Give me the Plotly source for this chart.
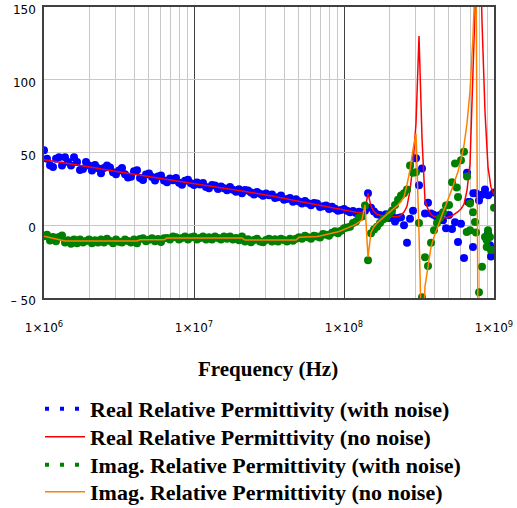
import plotly.graph_objects as go

# ---- frequency grid (50 points per decade) ----
mantissa = [1.0000, 1.0471, 1.0965, 1.1482, 1.2023, 1.2589, 1.3183, 1.3804, 1.4454, 1.5136,
            1.5849, 1.6596, 1.7378, 1.8197, 1.9055, 1.9953, 2.0893, 2.1878, 2.2909, 2.3988,
            2.5119, 2.6303, 2.7542, 2.8840, 3.0200, 3.1623, 3.3113, 3.4674, 3.6308, 3.8019,
            3.9811, 4.1687, 4.3652, 4.5709, 4.7863, 5.0119, 5.2481, 5.4954, 5.7544, 6.0256,
            6.3096, 6.6069, 6.9183, 7.2444, 7.5858, 7.9433, 8.3176, 8.7096, 9.1201, 9.5499]
decades = [1e6, 1e7, 1e8]
freq = [m * d for d in decades for m in mantissa] + [1e9]

real_clean = [45.0, 44.7, 44.3, 44.0, 43.7, 43.3, 43.0, 42.7, 42.4, 42.0,
              41.7, 41.4, 41.0, 40.7, 40.4, 40.0, 39.7, 39.4, 39.1, 38.7,
              38.4, 38.1, 37.7, 37.4, 37.1, 36.7, 36.4, 36.1, 35.8, 35.4,
              35.1, 34.8, 34.4, 34.1, 33.8, 33.5, 33.1, 32.8, 32.5, 32.2,
              31.8, 31.5, 31.2, 30.9, 30.5, 30.2, 29.9, 29.6, 29.2, 28.9,
              28.6, 28.3, 28.0, 27.6, 27.3, 27.0, 26.7, 26.4, 26.0, 25.7,
              25.4, 25.1, 24.8, 24.4, 24.1, 23.8, 23.5, 23.2, 22.8, 22.5,
              22.2, 21.9, 21.6, 21.2, 20.9, 20.6, 20.2, 19.8, 19.3, 18.9,
              18.5, 18.1, 17.7, 17.2, 16.8, 16.4, 16.0, 15.6, 15.1, 14.7,
              14.3, 13.9, 13.5, 13.0, 12.6, 12.2, 11.8, 11.4, 10.9, 10.5,
              10.1, 9.8, 9.5, 9.2, 9.0, 8.8, 8.8, 10.5, 22.0, 13.0,
              9.5, 7.5, 6.8, 6.4, 6.1, 5.9, 5.8, 5.8, 6.0, 7.0,
              9.0, 13.0, 24.0, 42.0, 70.0, 130.0, 60.0, 17.0, 11.0, 7.5,
              6.0, 5.3, 4.9, 4.8, 5.0, 5.6, 6.5, 7.8, 9.3, 11.2,
              14.5, 24.0, 42.0, 106.0, 180.0, 230.0, 140.0, 78.0, 40.0, 26.0,
              21.0]

imag_clean = [-7.5, -8.0, -8.5, -9.0, -9.5, -10.0, -10.5, -10.8, -10.8, -10.8,
              -10.8, -10.8, -10.8, -10.8, -10.8, -10.8, -10.8, -10.8, -10.8, -10.8,
              -10.8, -10.8, -10.8, -10.8, -10.8, -10.8, -10.8, -10.8, -10.8, -10.8,
              -10.8, -10.8, -10.0, -10.0, -10.0, -10.0, -10.0, -10.0, -10.0, -10.0,
              -10.0, -8.8, -8.8, -8.8, -8.8, -8.8, -8.8, -8.8, -8.8, -8.8,
              -8.8, -8.8, -8.8, -8.8, -8.8, -8.8, -8.8, -8.8, -8.8, -8.8,
              -8.8, -8.8, -8.8, -8.8, -8.8, -8.8, -8.8, -10.2, -10.2, -10.2,
              -10.2, -10.2, -10.2, -10.2, -10.2, -10.2, -10.2, -10.2, -10.2, -10.2,
              -10.2, -10.2, -10.2, -10.2, -10.2, -8.3, -8.3, -8.3, -8.3, -8.3,
              -8.3, -7.8, -7.4, -7.0, -6.6, -6.2, -5.7, -5.1, -4.5, -3.8,
              -3.0, -2.2, -1.3, -0.3, 0.8, 2.0, 3.5, 14.0, -22.0, -5.0,
              -1.0, 1.5, 3.5, 5.3, 7.0, 8.7, 10.3, 12.0, 14.0, 16.5,
              19.5, 28.0, 38.0, 52.0, 63.0, -5.0, -90.0, -42.0, -27.0, -15.0,
              -8.0, -2.0, 4.0, 9.0, 14.0, 19.0, 25.0, 31.0, 37.0, 45.0,
              55.0, 70.0, 92.0, 130.0, 185.0, -200.0, -120.0, -90.0, -75.0, -65.0,
              -60.0]

real_noisy = [51.5, 45.7, 41.3, 40.0, 45.7, 46.8, 41.0, 46.7, 43.4, 41.0,
              46.7, 43.4, 38.0, 38.7, 43.4, 41.0, 37.7, 41.4, 39.1, 35.7,
              39.4, 41.1, 39.7, 36.4, 35.1, 37.7, 39.4, 35.1, 32.8, 33.4,
              37.1, 37.8, 32.4, 31.1, 34.8, 35.5, 33.1, 30.8, 33.5, 34.2,
              30.8, 29.5, 32.2, 30.9, 32.5, 29.2, 27.9, 30.6, 31.2, 28.9,
              27.6, 29.3, 28.0, 29.1, 26.3, 25.5, 27.7, 27.4, 25.0, 26.7,
              25.4, 24.1, 26.3, 24.4, 23.1, 24.8, 22.0, 24.2, 23.8, 22.5,
              21.2, 22.9, 21.6, 20.2, 21.9, 20.6, 21.2, 18.8, 19.3, 20.4,
              17.5, 18.1, 18.7, 16.2, 17.8, 16.4, 15.0, 16.6, 15.1, 13.7,
              15.3, 14.9, 12.5, 13.0, 13.6, 11.2, 12.8, 11.4, 9.9, 10.5,
              11.1, 10.0, 9.0, 9.8, 8.5, 9.3, 8.2, 10.0, 22.0, 12.0,
              9.5, 7.5, 7.0, 6.0, 7.5, 5.0, 6.5, 2.5, 5.0, 5.5,
              0.0, -12.0, 4.5, 10.0, 46.0, 27.5, 39.0, 8.0, 15.5, 8.0,
              7.0, 5.5, 7.0, 3.5, -2.0, 7.0, -2.5, 2.0, -11.5, 1.0,
              -22.5, 36.0, 16.0, -15.0, 22.0, 17.0, 21.0, 24.5, -5.5, -21.5,
              22.5]

imag_noisy = [-7.5, -6.5, -10.5, -8.0, -11.0, -8.0, -7.0, -11.8, -10.3, -12.8,
              -9.8, -12.3, -9.8, -11.8, -10.8, -9.8, -12.3, -10.3, -11.8, -9.8,
              -11.8, -9.3, -10.8, -12.3, -9.8, -11.3, -11.8, -9.8, -10.8, -11.8,
              -9.8, -12.3, -9.5, -9.0, -11.0, -10.0, -9.0, -11.0, -9.5, -11.5,
              -9.0, -8.8, -9.8, -7.8, -8.3, -9.8, -8.8, -7.8, -9.8, -8.3,
              -7.8, -9.8, -8.8, -7.8, -9.8, -8.3, -9.8, -7.8, -8.8, -9.8,
              -7.8, -9.3, -7.8, -9.8, -8.8, -10.3, -7.8, -11.2, -9.7, -11.7,
              -10.2, -9.2, -11.2, -11.7, -10.2, -9.2, -11.2, -9.7, -11.2, -9.2,
              -10.2, -11.2, -9.2, -10.7, -9.2, -8.3, -9.3, -7.3, -8.3, -9.3,
              -7.3, -7.8, -8.4, -6.0, -6.6, -7.2, -5.2, -4.1, -5.5, -3.8,
              -2.0, -1.5, -1.0, 1.5, 2.5, 5.5, 6.0, 13.5, -24.0, -5.5,
              -3.0, -1.0, 1.5, 4.0, 5.0, 7.5, 10.0, 14.0, 17.5, 20.5,
              22.0, 24.5, 41.0, 36.0, 36.5, 1.5, -49.5, -22.0, -28.0, -12.0,
              -3.5, 1.5, 5.0, 9.0, 13.5, 14.0, 29.5, 42.5, 19.5, 44.7,
              50.5, 33.5, 15.0, 9.0, -5.0, -46.0, -28.5, -8.0, -3.5, -17.0,
              12.0]

# extra scattered samples near the top of the band
extra_real_freq = [6.74e8, 7.28e8, 9.16e8, 9.40e8]
extra_real = [16.0, 22.0, 20.6, -13.7]
extra_imag_freq = [5.64e8, 6.58e8, 6.92e8, 7.47e8, 8.94e8, 8.94e8, 9.40e8]
extra_imag = [26.0, -4.6, -3.4, 2.3, -15.0, -10.3, -8.0]

x_tick_vals = [1e6, 1e7, 1e8, 1e9]
x_tick_text = ["1×10<sup>6</sup>", "1×10<sup>7</sup>", "1×10<sup>8</sup>", "1×10<sup>9</sup>"]
x_minor_vals = [k * d for d in decades for k in [2, 3, 4, 5, 6, 7, 8, 9]]
y_tick_vals = [-50, 0, 50, 100, 150]
y_tick_text = ["– 50", "0", "50", "100", "150"]

names = ["Real Relative Permittivity (with noise)",
         "Real Relative Permittivity (no noise)",
         "Imag. Relative Permittivity (with noise)",
         "Imag. Relative Permittivity (no noise)"]

BLUE = "#0000ff"
RED = "#ff0000"
GREEN = "#008000"
ORANGE = "#ff8000"

fig = go.Figure()
fig.add_trace(go.Scatter(x=freq + extra_real_freq, y=real_noisy + extra_real, mode="markers",
                         marker=dict(color=BLUE, size=8), showlegend=False, name=names[0]))
fig.add_trace(go.Scatter(x=freq, y=real_clean, mode="lines",
                         line=dict(color=RED, width=1.5), showlegend=False, name=names[1]))
fig.add_trace(go.Scatter(x=freq + extra_imag_freq, y=imag_noisy + extra_imag, mode="markers",
                         marker=dict(color=GREEN, size=8), showlegend=False, name=names[2]))
fig.add_trace(go.Scatter(x=freq, y=imag_clean, mode="lines",
                         line=dict(color=ORANGE, width=1.5), showlegend=False, name=names[3]))

# legend entries (dotted symbol for the noisy series), one legend box per row
legend_styles = [dict(color=BLUE, width=4, dash="4px,11px"),
                 dict(color=RED, width=1.5),
                 dict(color=GREEN, width=4, dash="4px,11px"),
                 dict(color=ORANGE, width=1.5)]
legend_ids = ["legend", "legend2", "legend3", "legend4"]
for nm, st, lg in zip(names, legend_styles, legend_ids):
    fig.add_trace(go.Scatter(x=[None], y=[None], mode="lines", line=st, name=nm,
                             showlegend=True, legend=lg))

legend_font = dict(family="Liberation Serif", size=22, weight="bold", color="black")
row_y = [409, 437, 465, 492]
legend_layout = {}
for lg, ry in zip(legend_ids, row_y):
    legend_layout[lg] = dict(xref="container", yref="container",
                             x=40 / 517, y=1 - ry / 508, xanchor="left", yanchor="middle",
                             itemwidth=40, font=legend_font, bgcolor="rgba(0,0,0,0)",
                             borderwidth=0)

fig.update_xaxes(type="log", range=[6, 9],
                 tickvals=x_tick_vals, ticktext=x_tick_text,
                 showgrid=True, gridcolor="#404040", gridwidth=1,
                 minor=dict(tickvals=x_minor_vals, showgrid=True, gridcolor="#c8c8c8", gridwidth=1, ticks=""),
                 showline=True, mirror=True, linecolor="#404040", linewidth=1.5,
                 ticks="", zeroline=False, ticklabelstandoff=18, ticklabeloverflow="allow",
                 tickfont=dict(family="DejaVu Sans", size=12, color="black"))
fig.update_yaxes(range=[-50, 150], tickvals=y_tick_vals, ticktext=y_tick_text,
                 showgrid=True, gridcolor="#c8c8c8", gridwidth=1,
                 showline=True, mirror=True, linecolor="#404040", linewidth=1.5,
                 ticks="", zeroline=False, ticklabelstandoff=4, ticklabelshift=3,
                 ticklabeloverflow="allow",
                 tickfont=dict(family="DejaVu Sans", size=12, color="black"))

fig.add_annotation(text="Frequency (Hz)", xref="paper", yref="paper", x=0.498, y=-0.244,
                   xanchor="center", yanchor="middle", showarrow=False,
                   font=dict(family="Liberation Serif", size=21, weight="bold", color="black"))

fig.update_layout(width=517, height=508,
                  margin=dict(l=44, r=23, t=7, b=210, autoexpand=False),
                  paper_bgcolor="white", plot_bgcolor="white",
                  **legend_layout)

fig.write_html("out.html")
